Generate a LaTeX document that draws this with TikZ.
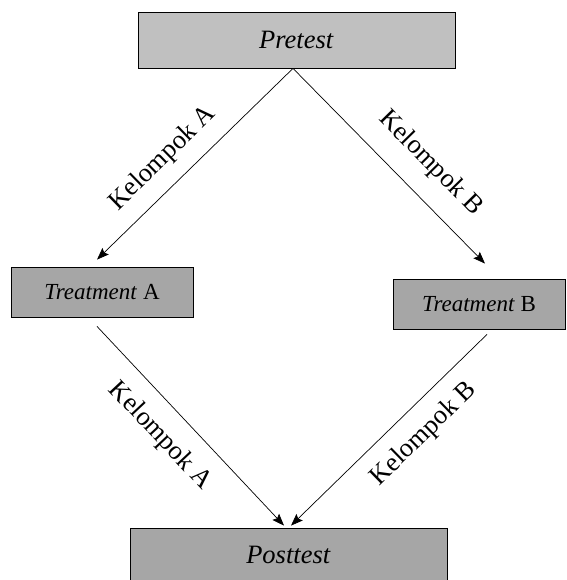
\documentclass[tikz,border=0pt]{standalone}
\usepackage{fontspec}
\setmainfont{Liberation Serif}
\usetikzlibrary{arrows.meta}
\tikzset{>={Stealth[length=12pt,width=9pt,inset=2pt]}}
\tikzset{
    box/.style = {draw, line width=0.8pt, inner sep=0pt},
    light/.style = {fill={rgb,255:red,192;green,192;blue,192}},
    dark/.style = {fill={rgb,255:red,166;green,166;blue,166}},
    big/.style = {font=\fontsize{26.5}{30}\selectfont},
    small/.style = {font=\fontsize{23}{26}\selectfont},
    link/.style = {->, line width=0.7pt},
    lbl/.style = {big, sloped, inner sep=2pt}
}

\begin{document}
\begin{tikzpicture}[x=1pt, y=-1pt]
    \useasboundingbox (0,0) rectangle (566,580);
    \node[box, light, big, minimum width=317pt, minimum height=56pt] (pretest) at (296.5,40) {\textit{Pretest}};
    \node[box, dark, small, minimum width=182pt, minimum height=50pt] (treatA) at (102,292) {\textit{Treatment} A};
    \node[box, dark, small, minimum width=172pt, minimum height=50pt] (treatB) at (479,304) {\textit{Treatment} B};
    \node[box, dark, big, minimum width=317pt, minimum height=54pt] (posttest) at (288.5,555) {\textit{Posttest}};

    \draw[link] ([xshift=-3.5pt]pretest.south) -- node[lbl, pos=0.57, above=12pt] {Kelompok A} ([xshift=-5pt,yshift=7pt]treatA.north);
    \draw[link] ([xshift=-3.5pt]pretest.south) -- node[lbl, pos=0.6, above=17pt] {Kelompok B} ([xshift=6pt,yshift=15pt]treatB.north);
    \draw[link] ([xshift=-5pt,yshift=-9pt]treatA.south) -- node[lbl, pos=0.45, below=15pt] {Kelompok A} ([xshift=-4.5pt,yshift=2pt]posttest.north);
    \draw[link] ([xshift=8pt,yshift=-5pt]treatB.south) -- node[lbl, pos=0.42, below=13pt] {Kelompok B} ([xshift=2.5pt,yshift=2pt]posttest.north);
\end{tikzpicture}
\end{document}
